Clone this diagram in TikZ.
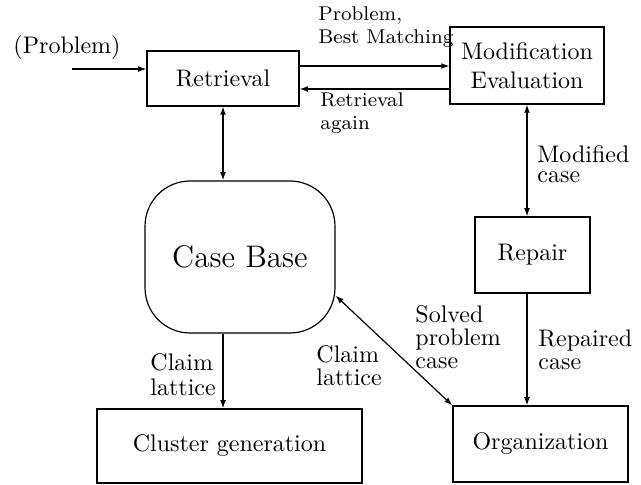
\documentclass[tikz,border=0pt]{standalone}
\usetikzlibrary{arrows.meta}
\begin{document}
\begin{tikzpicture}[x=0.417pt,y=-0.417pt,
  box/.style={draw,line width=0.5pt,inner sep=0pt,align=center},
  lbl/.style={inner sep=0pt,anchor=north west,align=left},
  smalllbl/.style={lbl,font=\fontsize{8.3}{9.6}\selectfont},
  con/.style={line width=0.5pt,-{Latex[length=3.4pt,width=2.4pt]}},
  bicon/.style={line width=0.5pt,{Latex[length=3.4pt,width=2.4pt]}-{Latex[length=3.4pt,width=2.4pt]}}]
\useasboundingbox (0,0) rectangle (641,485);
% boxes
\node[box,minimum width=63.4pt,minimum height=22.9pt] (Retrieval) at (223,78.5) {Retrieval};
\node[box,minimum width=64.2pt,minimum height=32.1pt] (ModEval) at (527,65.5) {Modification\\Evaluation};
\node[box,rounded corners=18.8pt,minimum width=79.2pt,minimum height=63.4pt,font=\fontsize{13}{15}\selectfont] (CaseBase) at (240,257) {Case Base};
\node[box,minimum width=48pt,minimum height=31.7pt] (Repair) at (532.5,255) {Repair};
\node[box,minimum width=110.5pt,minimum height=30.9pt] (Cluster) at (229.5,446) {Cluster generation};
\node[box,minimum width=73pt,minimum height=31.7pt] (Organization) at (540.5,444) {Organization};
% input
\node[inner sep=0pt,anchor=base west] (ProblemIn) at (13,54) {(Problem)};
\coordinate (pin) at (72,69);
\draw[con] (pin) -- (pin -| Retrieval.west);
% Retrieval <-> ModEval
\coordinate (ytop) at (0,66);
\coordinate (ybot) at (0,89);
\draw[con] (ytop -| Retrieval.east) -- (ytop -| ModEval.west);
\draw[con] (ybot -| ModEval.west) -- (ybot -| Retrieval.east);
% verticals
\draw[bicon] (Retrieval.south) -- (Retrieval.south |- CaseBase.north);
\draw[bicon] (ModEval.south) -- (ModEval.south |- Repair.north);
\draw[con] (Repair.south -| ModEval.south) -- (Organization.north -| ModEval.south);
\draw[con] (CaseBase.south -| Retrieval.south) -- (Cluster.north -| Retrieval.south);
\draw[bicon] (CaseBase.-22) -- (Organization.north west);
% labels
\node[smalllbl] (lblPBM) at (318,6) {Problem,\\Best Matching};
\node[smalllbl] (lblRA) at (320,92) {Retrieval\\again};
\node[lbl,font=\fontsize{10}{8.5}\selectfont] (lblMC) at (537,145) {Modified\\case};
\node[lbl,font=\fontsize{10}{9.6}\selectfont] (lblSPC) at (415,305) {Solved\\problem\\case};
\node[lbl,font=\fontsize{10}{9.6}\selectfont] (lblRC) at (538,329) {Repaired\\case};
\node[lbl,font=\fontsize{10}{10.4}\selectfont] (lblCL1) at (150,353) {Claim\\lattice};
\node[lbl,font=\fontsize{10}{9.6}\selectfont] (lblCL2) at (316,345) {Claim\\lattice};
\end{tikzpicture}
\end{document}
